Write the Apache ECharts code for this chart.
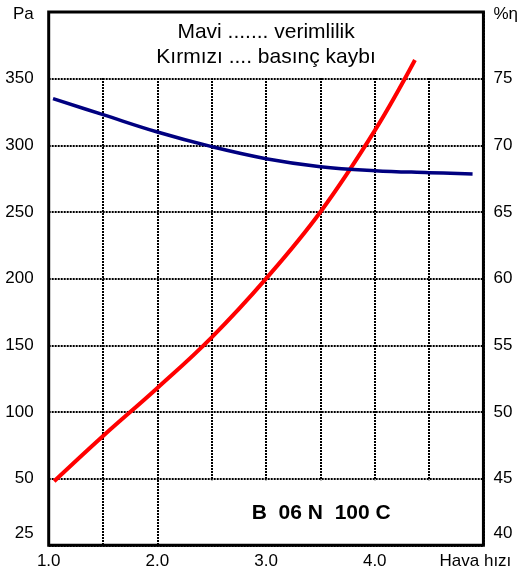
<!DOCTYPE html>
<html>
<head>
<meta charset="utf-8">
<script src="https://cdn.jsdelivr.net/npm/echarts@6/dist/echarts.min.js"></script>
<style>html,body{margin:0;padding:0;background:#fff}#c{width:521px;height:575px}</style>
</head>
<body>
<div id="c"></div>
<script>
// Data
const redX = [1.05, 1.5, 2.0, 2.5, 3.0, 3.5, 4.0, 4.37];          // Hava hızı
const redY = [48, 82, 118, 156, 200, 250, 311, 364];               // basınç kaybı (Pa)
const blueX = [1.04, 1.5, 2.0, 2.5, 3.0, 3.5, 4.0, 4.5, 4.9];      // Hava hızı
const blueY = [73.5, 72.3, 71.0, 69.9, 69.0, 68.4, 68.1, 67.95, 67.85]; // verimlilik (%)
const xLabels = {1: '1.0', 2: '2.0', 3: '3.0', 4: '4.0', 5: 'Hava hızı'};
const leftLabels = {0: '25', 50: '50', 100: '100', 150: '150', 200: '200', 250: '250', 300: '300', 350: '350', 400: 'Pa'};
const rightLabels = {40: '40', 45: '45', 50: '50', 55: '55', 60: '60', 65: '65', 70: '70', 75: '75', 80: '%η'};
const legendText = 'Mavi ....... verimlilik\nKırmızı .... basınç kaybı';
const modelText = 'B  06 N  100 C';

const FONT = "'Liberation Sans', Arial, sans-serif";
const chart = echarts.init(document.getElementById('c'), null, {renderer: 'canvas'});

function zip(xs, ys) { return xs.map((x, i) => [x, ys[i]]); }

const labelRich = {
  lo: {fontSize: 17, fontFamily: FONT, color: '#000', padding: [0, 0, 24, 0]},
  top: {fontSize: 17, fontFamily: FONT, color: '#000', padding: [4, 0, 0, 0]},
  n: {fontSize: 17, fontFamily: FONT, color: '#000'}
};

chart.setOption({
  animation: false,
  backgroundColor: '#fff',
  grid: {left: 48.7, right: 34, top: 12, bottom: 29.7, show: true, borderColor: '#000', borderWidth: 3, z: 10, backgroundColor: 'transparent'},
  xAxis: {
    type: 'value', min: 1, max: 5, interval: 0.5,
    axisLine: {show: false}, axisTick: {show: false},
    axisLabel: {
      margin: 8, fontSize: 17, fontFamily: FONT, color: '#000',
      rich: {n: {fontSize: 17, fontFamily: FONT, color: '#000'}, h: {fontSize: 17, fontFamily: FONT, color: '#000', padding: [0, 16, 0, 0]}},
      formatter: v => {
        const r = Math.round(v * 10) / 10;
        if (r === 5) return '{h|' + xLabels[5] + '}';
        return xLabels[r] !== undefined ? xLabels[r] : '';
      }
    },
    splitLine: {show: true, lineStyle: {color: '#000', width: 2, type: [2, 1]}}
  },
  yAxis: [
    {
      type: 'value', min: 0, max: 400, interval: 50, position: 'left',
      axisLine: {show: false}, axisTick: {show: false},
      axisLabel: {
        margin: 15, fontSize: 17, fontFamily: FONT, color: '#000', rich: labelRich,
        formatter: v => v === 0 ? '{lo|' + leftLabels[0] + '}' : (v === 400 ? '{top|' + leftLabels[400] + '}' : leftLabels[v])
      },
      splitLine: {show: true, lineStyle: {color: '#000', width: 1.8, type: [2, 1]}}
    },
    {
      type: 'value', min: 40, max: 80, interval: 5, position: 'right',
      axisLine: {show: false}, axisTick: {show: false},
      axisLabel: {
        margin: 10, fontSize: 17, fontFamily: FONT, color: '#000', rich: labelRich,
        formatter: v => v === 40 ? '{lo|' + rightLabels[40] + '}' : (v === 80 ? '{top|' + rightLabels[80] + '}' : rightLabels[v])
      },
      splitLine: {show: false}
    }
  ],
  series: [
    {
      type: 'line', data: [], z: 1, silent: true, xAxisIndex: 0, yAxisIndex: 0,
      markArea: {
        silent: true,
        itemStyle: {color: '#fff', opacity: 1, borderWidth: 0},
        data: [
          [{name: legendText, xAxis: 1, yAxis: 351.2,
            label: {show: true, position: 'inside', fontSize: 21, lineHeight: 25, fontFamily: FONT, color: '#000', align: 'center'}},
           {xAxis: 5, yAxis: 400}],
          [{name: modelText, xAxis: 2.015, yAxis: 0,
            label: {show: true, position: 'inside', fontSize: 21, fontWeight: 'bold', fontFamily: FONT, color: '#000'}},
           {xAxis: 5, yAxis: 48.8}]
        ]
      }
    },
    {
      name: 'basınç kaybı', type: 'line', data: zip(redX, redY), yAxisIndex: 0, z: 3,
      smooth: 0.4, showSymbol: false, lineStyle: {color: '#ff0000', width: 4}
    },
    {
      name: 'verimlilik', type: 'line', data: zip(blueX, blueY), yAxisIndex: 1, z: 3,
      smooth: 0.4, showSymbol: false, lineStyle: {color: '#000080', width: 3.5}
    }
  ]
});
</script>
</body>
</html>
